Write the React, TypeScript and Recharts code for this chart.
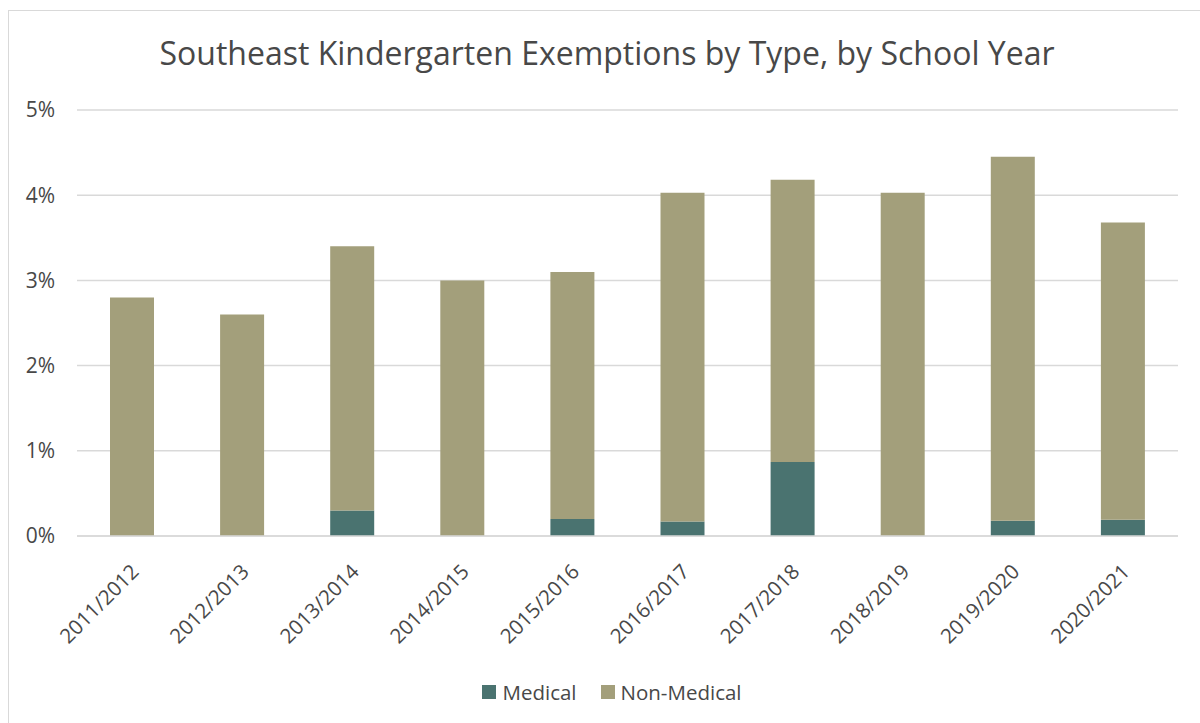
import React from "react";
import { Bar, BarChart, CartesianGrid, Legend, XAxis, YAxis } from "recharts";

const years = [
  "2011/2012",
  "2012/2013",
  "2013/2014",
  "2014/2015",
  "2015/2016",
  "2016/2017",
  "2017/2018",
  "2018/2019",
  "2019/2020",
  "2020/2021",
];
// percent of kindergarteners
const medical = [0, 0, 0.3, 0, 0.2, 0.17, 0.87, 0, 0.18, 0.19];
const nonMedical = [2.8, 2.6, 3.1, 3.0, 2.9, 3.86, 3.31, 4.03, 4.27, 3.49];
const yTicks = [0, 1, 2, 3, 4, 5];

const MED_COLOR = "#4A7370";
const NONMED_COLOR = "#A39F7B";
const TEXT = "#484848";
const FONT = "'Open Sans', sans-serif";

const data = years.map((year, i) => ({
  year,
  medical: medical[i],
  nonMedical: nonMedical[i],
}));

function YearTick(props: any) {
  const { x, y, payload } = props;
  const ax = x + 3;
  const ay = y + 24;
  return (
    <text
      x={ax}
      y={ay}
      dy="0.35em"
      textAnchor="end"
      fill={TEXT}
      fontSize={20.5}
      fontFamily={FONT}
      transform={`rotate(-45, ${ax}, ${ay})`}
    >
      {payload.value}
    </text>
  );
}

function LegendBox() {
  const items = [
    { label: "Medical", color: MED_COLOR },
    { label: "Non-Medical", color: NONMED_COLOR },
  ];
  return (
    <div
      style={{
        display: "flex",
        justifyContent: "center",
        alignItems: "center",
        height: 30,
        paddingLeft: 16,
        fontFamily: FONT,
        fontSize: 20.5,
        color: TEXT,
      }}
    >
      {items.map((it, i) => (
        <div
          key={it.label}
          style={{ display: "flex", alignItems: "center", marginLeft: i ? 24 : 0 }}
        >
          <span style={{ width: 14, height: 14, background: it.color, marginRight: 6 }} />
          <span>{it.label}</span>
        </div>
      ))}
    </div>
  );
}

export default function App() {
  return (
    <div
      style={{
        position: "fixed",
        left: 8,
        top: 10,
        width: 1192,
        height: 713,
        borderTop: "1.5px solid #d9d9d9",
        borderLeft: "1.5px solid #d9d9d9",
        background: "#fff",
        fontFamily: FONT,
      }}
    >
      <div
        style={{
          position: "absolute",
          left: 0,
          width: 1196,
          top: 22,
          textAlign: "center",
          fontSize: 32,
          color: TEXT,
          lineHeight: "40px",
        }}
      >
        Southeast Kindergarten Exemptions by Type, by School Year
      </div>
      <BarChart
        width={1190}
        height={712}
        data={data}
        margin={{ top: 99, right: 21, bottom: 16, left: 0 }}
        barSize={44}
      >
        <CartesianGrid vertical={false} stroke="#d9d9d9" strokeWidth={1.5} />
        <XAxis
          dataKey="year"
          height={141}
          interval={0}
          tickLine={false}
          axisLine={{ stroke: "#d9d9d9", strokeWidth: 1.5 }}
          tick={<YearTick />}
        />
        <YAxis
          width={68}
          domain={[0, 5]}
          ticks={yTicks}
          tickFormatter={(v) => `${v}%`}
          axisLine={false}
          tickLine={false}
          tickSize={0}
          tickMargin={22}
          tick={{ fill: TEXT, fontSize: 21, fontFamily: FONT }}
        />
        <Legend
          verticalAlign="bottom"
          content={<LegendBox />}
          wrapperStyle={{ left: 0, width: 1190 }}
        />
        <Bar dataKey="medical" stackId="a" fill={MED_COLOR} isAnimationActive={false} />
        <Bar dataKey="nonMedical" stackId="a" fill={NONMED_COLOR} isAnimationActive={false} />
      </BarChart>
    </div>
  );
}
